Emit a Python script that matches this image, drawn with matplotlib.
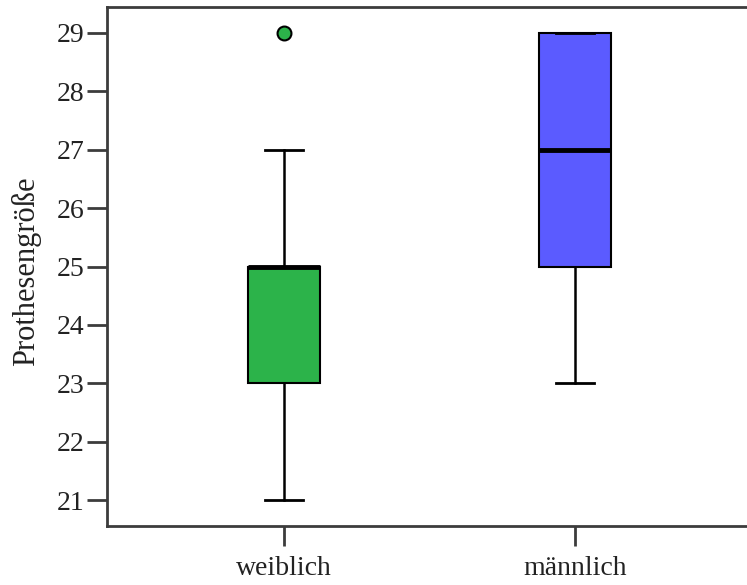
import matplotlib
matplotlib.use("Agg")
import matplotlib.pyplot as plt

plt.rcParams['font.family'] = ['Liberation Serif', 'DejaVu Serif']

# Boxplot-Kennwerte je Geschlecht
gruppen = ["weiblich", "männlich"]
whisker_unten = [21, 23]
q1 = [23, 25]
median = [25, 27]
q3 = [25, 29]
whisker_oben = [27, 29]
ausreisser = [[29], []]
farben = ["#2cb34a", "#5b5bff"]
y_ticks = [21, 22, 23, 24, 25, 26, 27, 28, 29]

stats = []
for i, name in enumerate(gruppen):
    stats.append(dict(label=name, whislo=whisker_unten[i], q1=q1[i], med=median[i],
                      q3=q3[i], whishi=whisker_oben[i], fliers=ausreisser[i]))

fig = plt.figure(figsize=(7.47, 5.85), dpi=100)
ax = fig.add_axes([107/747, 59/585, 640/747, 519/585])

bp = ax.bxp(stats, positions=[1, 2], widths=0.25, patch_artist=True,
            boxprops=dict(edgecolor="black", linewidth=1.5),
            medianprops=dict(color="black", linewidth=3.5),
            whiskerprops=dict(color="black", linewidth=1.8),
            capprops=dict(color="black", linewidth=2),
            capwidths=0.13,
            flierprops=dict(marker="o", markerfacecolor=farben[0], markeredgecolor="black",
                            markersize=10, markeredgewidth=1.5))
for patch, c in zip(bp["boxes"], farben):
    patch.set_facecolor(c)

ax.set_xlim(0.392, 2.591)
ax.set_ylim(20.555, 29.445)
ax.set_yticks(y_ticks)
ax.set_xticks([1, 2])
ax.set_xticklabels(gruppen)

for side in ["left", "bottom", "top"]:
    ax.spines[side].set_linewidth(2)
    ax.spines[side].set_color("#3c3c3c")
ax.spines["right"].set_visible(False)

ax.tick_params(axis="both", length=14.5, width=2, color="#3c3c3c", labelsize=20, labelcolor="#222222")
ax.tick_params(axis="y", pad=1.5)
ax.tick_params(axis="x", pad=7)

ax.set_ylabel("Prothesengröße", fontsize=22, color="#222222")
ax.yaxis.set_label_coords(-0.103, 0.49)

fig.savefig("out.png", dpi=100)
